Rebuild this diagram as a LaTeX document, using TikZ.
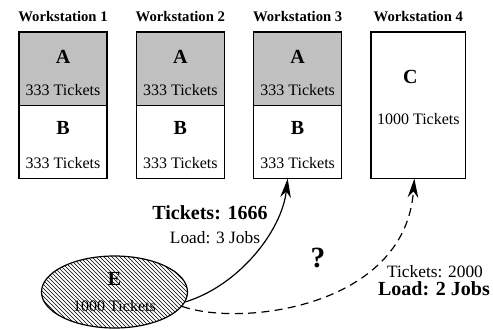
\documentclass[tikz,border=0pt]{standalone}
\usepackage{fontspec}
\setmainfont{Liberation Serif}
\usepackage{tikz}
\usetikzlibrary{shapes.geometric,arrows.meta,positioning,calc,patterns}
\definecolor{ticketgray}{RGB}{192,192,192}

\begin{document}
\begin{tikzpicture}[
  x=0.75pt, y=-0.75pt,
  node distance=22pt,
  wsbox/.style={draw=black, line width=0.9pt, minimum width=66pt, minimum height=55pt, inner sep=0pt, outer sep=0pt},
  title/.style={font=\fontsize{11}{13}\selectfont\bfseries},
  job/.style={font=\fontsize{15}{17}\selectfont\bfseries},
  tickets/.style={font=\fontsize{12}{14}\selectfont},
  note/.style={font=\fontsize{13}{15}\selectfont},
  boldnote/.style={font=\fontsize{15}{17}\selectfont\bfseries},
  move/.style={-{Stealth[length=5mm, width=2.8mm]}, line width=0.9pt}
]
\useasboundingbox (0,0) rectangle (493,329);

% workstations
\node[wsbox, fill=ticketgray, anchor=north west] (a1) at (19,32) {};
\node[wsbox, below=0pt of a1] (b1) {};
\node[wsbox, fill=ticketgray, right=of a1] (a2) {};
\node[wsbox, below=0pt of a2] (b2) {};
\node[wsbox, fill=ticketgray, right=of a2] (a3) {};
\node[wsbox, below=0pt of a3] (b3) {};
\node[wsbox, minimum width=71pt, minimum height=110pt, right=of a3.north east, anchor=north west] (c4) {};

\node[title, above=4pt of a1] (hdr1) {Workstation 1};
\node[title, above=4pt of a2] (hdr2) {Workstation 2};
\node[title, above=4pt of a3] (hdr3) {Workstation 3};
\node[title, above=4pt of c4] (hdr4) {Workstation 4};

\node[job] (ja1) at ($(a1.north)+(0pt,-18.75pt)$) {A};
\node[tickets] (ta1) at ($(a1.north)+(0pt,-43.5pt)$) {333 Tickets};
\node[job] (jb1) at ($(b1.north)+(0pt,-17.25pt)$) {B};
\node[tickets] (tb1) at ($(b1.north)+(0pt,-43.5pt)$) {333 Tickets};
\node[job] (ja2) at ($(a2.north)+(0pt,-18.75pt)$) {A};
\node[tickets] (ta2) at ($(a2.north)+(0pt,-43.5pt)$) {333 Tickets};
\node[job] (jb2) at ($(b2.north)+(0pt,-17.25pt)$) {B};
\node[tickets] (tb2) at ($(b2.north)+(0pt,-43.5pt)$) {333 Tickets};
\node[job] (ja3) at ($(a3.north)+(0pt,-18.75pt)$) {A};
\node[tickets] (ta3) at ($(a3.north)+(0pt,-43.5pt)$) {333 Tickets};
\node[job] (jb3) at ($(b3.north)+(0pt,-17.25pt)$) {B};
\node[tickets] (tb3) at ($(b3.north)+(0pt,-43.5pt)$) {333 Tickets};
\node[job] (jc4) at ($(c4.north)+(-6pt,-33.75pt)$) {C};
\node[tickets] (tc4) at ($(c4.north)+(0pt,-65pt)$) {1000 Tickets};

% new job
\node[draw, ellipse, line width=0.9pt, pattern=north west lines, minimum width=109.5pt, minimum height=54pt, inner sep=0pt] (e) at (114.5,292) {};
\node[job] (je) at ($(e.center)+(0pt,10pt)$) {E};
\node[tickets] (te) at ($(e.center)+(0pt,-10.5pt)$) {1000 Tickets};

% placement choices
\draw[move] (e.-8) .. controls (240,285) and (282,230) .. ([xshift=-7.5pt]b3.south);
\draw[move, dash pattern=on 6pt off 4pt] (e.-12) .. controls (240,327) and (405,308) .. ([xshift=-3pt]c4.south);

\node[boldnote] (t1666) at (210,213) {Tickets: 1666};
\node[note] (load3) at (215,238) {Load: 3 Jobs};
\node[font=\fontsize{22}{24}\selectfont\bfseries] (ask) at (318,258) {?};
\node[note] (t2000) at (435,272) {Tickets: 2000};
\node[boldnote] (load2) at (434,289) {Load: 2 Jobs};
\end{tikzpicture}
\end{document}
